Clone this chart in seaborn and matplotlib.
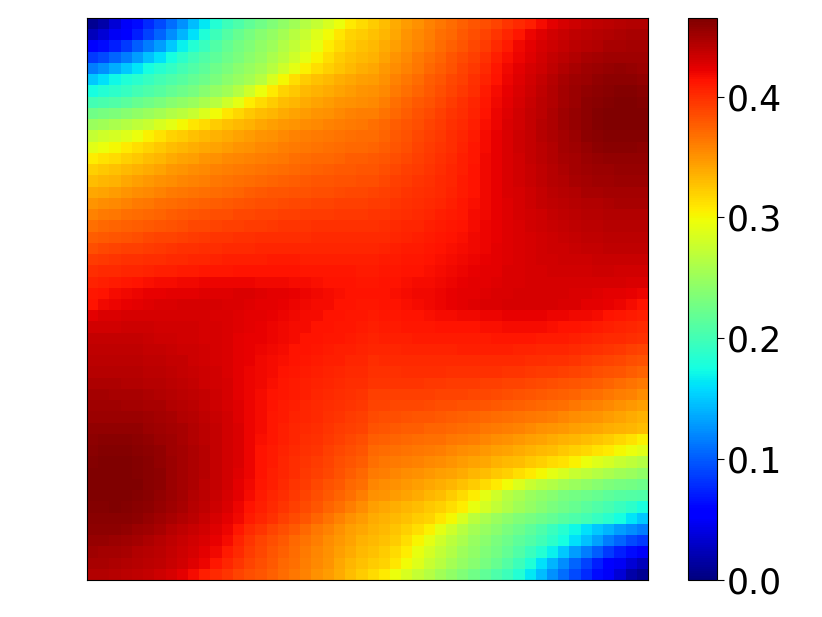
import numpy as np
import matplotlib
matplotlib.use("Agg")
import matplotlib.pyplot as plt
import seaborn as sns

# Cell values, in thousandths
upper_left = [
    [8,18,35,50,62,78,92,108,125,145,165,183,197,207,217,226,235,244,254,264,274,284,296,307,316],
    [25,35,48,58,72,88,104,122,140,160,180,197,210,220,230,238,247,256,266,276,287,298,310,318,323],
    [52,62,72,85,100,115,130,150,168,182,196,208,218,228,236,244,252,262,272,283,294,306,316,323,328],
    [85,92,104,116,130,146,160,175,188,198,208,216,224,232,240,248,258,268,278,291,303,314,322,327,332],
    [115,125,137,150,162,175,184,192,200,208,216,224,232,240,248,256,266,279,292,305,314,321,326,332,337],
    [150,160,172,180,187,194,200,206,212,218,224,232,240,248,256,266,284,300,313,322,328,332,337,341,344],
    [176,182,188,194,200,206,212,218,224,230,238,246,254,264,278,296,308,318,325,331,335,339,343,346,349],
    [200,204,208,214,220,226,232,238,244,250,258,266,278,292,306,316,323,329,334,338,342,346,349,352,354],
    [226,230,234,238,244,250,256,262,268,276,286,298,309,317,324,330,334,338,342,346,349,352,355,358,360],
    [250,253,258,264,270,276,284,292,301,309,316,322,327,332,336,340,344,347,350,353,356,358,361,363,365],
    [274,278,282,288,296,304,312,318,323,328,332,336,339,343,346,349,352,355,358,360,362,364,366,368,369],
    [290,295,301,307,313,319,324,329,333,337,340,343,346,349,352,355,357,360,362,364,366,368,370,371,372],
    [306,311,315,320,325,330,334,338,342,345,349,352,355,357,359,361,363,365,367,369,371,372,374,376,377],
    [320,324,327,331,335,339,343,347,350,353,355,358,360,362,364,366,368,370,372,374,375,376,378,379,380],
    [330,333,336,340,344,348,351,354,357,359,361,364,366,368,370,372,374,375,377,378,380,381,382,383,384],
    [340,343,346,350,353,356,359,362,364,366,368,370,372,374,376,378,380,381,382,383,384,385,386,387,388],
    [350,353,356,359,362,364,367,369,371,373,375,377,379,381,382,384,385,386,387,388,389,390,391,392,392],
    [359,362,365,367,369,371,374,376,378,380,382,384,385,387,388,389,390,391,392,393,394,394,395,395,395],
    [368,371,373,375,377,379,381,383,385,387,388,390,391,392,393,394,395,396,397,397,398,398,399,399,399],
    [376,379,381,383,385,387,389,390,392,393,395,396,397,398,399,400,400,401,401,401,402,402,402,402,402],
    [385,387,389,391,392,394,395,397,398,399,400,401,402,403,403,404,404,405,405,405,405,405,405,405,405],
    [393,395,396,398,399,400,401,402,403,404,405,406,407,408,408,408,409,409,409,408,408,408,408,408,407],
    [400,402,403,404,405,406,407,408,409,410,411,412,412,413,413,413,413,413,413,412,412,411,411,411,410],
    [406,408,410,411,413,415,416,417,418,419,420,420,420,420,420,419,419,418,417,416,415,414,414,413,412],
    [411,414,417,419,421,422,423,424,425,425,426,426,426,427,427,426,425,424,422,420,418,416,415,414,413],
]

upper_right = [
    [322,330,338,346,352,358,364,370,375,380,385,390,396,402,408,416,424,430,434,437,439,441,443,444,445],
    [327,334,341,349,355,361,367,372,378,384,390,397,405,412,420,426,431,435,438,441,443,444,446,447,447],
    [332,338,345,351,357,363,369,375,381,387,394,402,410,418,424,429,433,437,440,443,445,447,448,449,450],
    [336,343,350,356,362,368,374,380,386,392,399,407,415,421,426,431,436,441,445,448,450,451,452,452,452],
    [341,347,353,359,365,371,377,383,389,395,402,411,418,424,429,434,439,444,448,451,453,455,456,455,454],
    [346,352,358,364,370,376,381,387,392,398,406,414,420,426,431,436,442,447,451,454,457,459,459,458,456],
    [351,356,362,368,374,379,385,390,395,401,409,416,422,428,433,438,444,449,453,456,459,461,462,462,460],
    [356,361,367,373,378,383,388,393,398,404,412,418,424,430,435,440,445,450,454,458,461,463,464,464,463],
    [361,366,372,377,382,386,391,396,401,406,414,420,426,431,436,441,446,451,455,459,462,464,465,465,465],
    [367,371,376,380,385,389,393,398,403,408,415,421,427,432,437,442,446,451,455,459,462,464,465,465,465],
    [370,374,378,383,387,391,395,400,405,410,416,422,428,433,437,442,446,450,454,458,460,462,463,463,463],
    [373,377,381,385,389,393,397,401,406,411,417,423,428,433,437,441,445,449,452,455,458,460,460,460,459],
    [378,381,385,388,392,395,399,403,407,412,418,423,428,432,436,440,444,447,450,453,455,456,457,457,457],
    [381,384,387,391,394,397,400,404,408,413,418,423,427,431,435,439,443,446,449,451,453,454,455,455,455],
    [385,388,391,394,396,399,402,405,409,413,418,423,427,431,435,438,442,445,447,449,451,452,453,453,453],
    [389,391,393,396,398,401,403,406,410,414,418,423,427,430,434,437,440,443,445,447,448,449,450,450,450],
    [393,394,396,398,400,402,405,408,411,415,419,423,426,429,433,436,438,441,443,444,445,446,447,447,448],
    [396,397,399,401,403,405,407,409,412,416,419,423,426,429,432,434,437,439,441,442,443,444,445,445,445],
    [399,400,402,404,405,407,409,411,414,417,420,423,426,428,431,433,435,437,438,440,441,442,442,443,443],
    [402,403,405,406,408,409,411,413,415,418,421,423,426,428,430,432,434,435,437,438,439,440,440,441,441],
    [405,406,408,409,410,411,413,415,417,419,421,424,426,428,430,431,433,434,435,436,437,438,438,438,438],
    [408,409,410,411,412,413,415,417,419,421,423,425,426,428,429,431,432,433,434,434,435,435,435,435,435],
    [410,411,412,413,414,415,417,419,421,423,424,425,427,428,429,430,431,432,432,432,433,433,432,432,431],
    [412,413,414,415,416,417,419,421,423,424,425,426,427,428,429,430,430,430,430,430,430,430,429,428,427],
    [413,414,415,416,418,419,421,423,424,425,426,427,428,429,429,430,430,429,428,427,426,425,424,423,420],
]

lower_left = [
    [414,418,421,423,425,426,427,428,429,429,429,429,428,427,426,425,424,423,421,419,417,416,414,413,412],
    [425,427,428,429,430,430,430,430,430,430,429,428,427,426,425,424,422,421,419,417,416,414,413,412,411],
    [431,432,432,433,433,433,432,432,431,431,430,429,427,426,424,423,421,419,417,416,414,413,412,411,410],
    [436,436,436,436,436,435,434,433,432,431,430,429,427,425,423,422,420,418,416,414,413,412,411,409,408],
    [439,439,439,439,438,437,436,435,434,433,431,429,427,425,423,420,418,416,414,413,411,410,408,407,406],
    [441,441,441,441,440,439,438,437,436,434,432,430,428,425,422,419,417,415,413,411,410,408,407,405,404],
    [443,443,443,443,442,441,440,439,437,435,433,431,428,425,421,418,416,414,411,410,408,406,405,403,402],
    [446,446,446,445,444,443,442,441,439,437,434,432,429,425,421,418,415,412,410,408,406,404,403,401,400],
    [449,449,448,448,447,446,445,443,441,439,436,433,429,425,421,417,414,411,409,407,405,403,401,399,397],
    [451,451,451,450,449,448,447,445,443,441,437,434,430,426,421,417,413,410,408,405,403,401,399,397,395],
    [454,454,454,454,453,452,450,448,445,442,439,435,431,426,421,416,412,409,406,404,402,399,397,394,392],
    [456,457,457,457,456,454,452,449,447,444,440,436,432,427,421,416,411,408,405,402,400,397,394,391,389],
    [459,460,460,460,459,457,454,451,448,445,441,437,432,427,421,415,411,407,404,401,398,395,391,388,385],
    [461,462,463,462,461,459,456,452,449,446,442,437,432,427,421,414,410,406,402,399,396,392,388,384,381],
    [463,464,464,464,462,460,457,454,450,446,442,437,432,427,421,414,409,405,401,397,393,389,385,381,377],
    [465,465,465,465,463,461,458,454,450,446,442,437,432,426,420,413,408,404,400,395,391,387,382,377,372],
    [465,465,465,465,464,461,458,454,450,446,441,436,431,425,419,412,407,402,397,393,388,383,378,372,367],
    [464,465,465,465,463,460,457,453,449,445,440,435,430,424,417,410,405,400,395,390,385,379,373,367,361],
    [463,463,464,463,461,458,455,451,447,443,438,433,427,421,414,408,403,397,392,386,380,374,368,361,354],
    [461,461,461,460,458,455,452,448,444,440,435,430,425,418,410,404,398,392,386,380,373,366,359,352,346],
    [458,458,458,456,454,451,447,443,439,435,431,426,420,412,403,396,390,384,378,372,365,358,351,345,340],
    [455,455,454,452,449,446,443,439,435,431,427,422,416,406,397,390,384,378,372,366,360,354,348,342,336],
    [451,450,449,447,445,443,440,437,433,429,424,418,410,402,394,387,381,375,369,363,357,351,345,338,332],
    [447,447,446,444,443,441,438,435,431,426,420,412,405,397,390,384,378,372,367,361,355,349,341,334,327],
    [445,444,443,441,439,437,434,430,424,416,408,402,396,390,385,380,375,370,364,358,352,346,338,330,322],
]

lower_right = [
    [412,413,414,415,417,419,421,423,425,426,427,428,429,430,430,430,429,428,427,425,424,422,420,417,413],
    [410,411,412,413,414,415,416,417,418,419,420,421,422,422,422,422,421,420,419,418,416,414,412,410,408],
    [408,409,410,411,412,412,413,413,414,414,415,415,416,416,416,416,415,414,413,412,410,408,406,404,402],
    [406,407,408,408,409,409,410,410,410,410,410,411,411,411,411,410,410,409,408,406,405,403,402,400,398],
    [404,405,405,406,406,406,406,406,407,407,407,407,407,406,406,405,405,404,402,401,399,397,395,392,390],
    [401,402,403,403,403,403,403,403,403,403,403,403,402,402,401,400,399,398,396,394,392,390,388,385,382],
    [399,399,399,400,400,400,400,399,399,399,398,398,397,396,395,394,393,391,389,387,385,383,380,377,374],
    [396,396,396,396,396,395,395,394,394,393,392,391,390,389,388,386,384,382,380,378,376,373,370,366,363],
    [392,392,392,392,391,391,390,390,389,388,387,386,385,383,381,379,377,375,373,370,367,364,361,358,354],
    [389,389,388,387,387,386,385,384,383,382,380,378,377,375,373,371,369,367,364,361,358,355,352,348,344],
    [386,385,384,382,381,380,378,377,375,374,372,370,368,366,364,362,360,357,354,351,349,346,343,339,335],
    [382,380,379,377,376,374,373,371,369,367,365,363,360,358,355,352,350,347,344,342,340,337,335,333,330],
    [377,375,373,372,370,368,367,365,362,360,357,354,351,348,345,342,339,336,333,330,326,322,317,311,304],
    [372,370,368,366,364,362,360,357,354,351,348,345,342,339,336,332,329,325,321,317,312,307,301,295,289],
    [367,365,363,361,358,356,353,350,346,343,340,336,332,329,325,320,316,311,304,296,288,282,276,270,265],
    [362,360,357,354,351,348,345,342,338,334,330,325,320,314,307,300,292,284,276,270,264,258,253,249,245],
    [357,354,351,348,345,341,337,333,328,322,316,308,298,286,276,268,262,256,250,244,238,234,230,228,225],
    [352,349,346,342,338,334,329,323,316,306,292,278,266,258,250,244,238,232,228,224,220,216,212,210,208],
    [344,341,337,333,329,325,320,314,306,294,282,272,262,254,246,238,232,226,220,214,208,202,196,188,178],
    [339,335,331,327,323,318,310,300,284,268,258,250,242,236,230,224,218,212,206,200,194,186,176,162,150],
    [335,331,326,321,314,305,292,279,266,256,248,240,232,224,216,206,196,184,172,160,150,140,130,122,115],
    [332,327,322,314,303,291,278,268,258,248,240,232,224,216,208,198,188,176,160,146,132,116,104,92,85],
    [328,323,316,306,294,283,272,262,252,244,236,228,218,208,196,182,168,150,130,115,100,85,72,62,50],
    [323,318,310,298,287,276,266,256,247,238,230,220,210,197,180,160,140,122,104,88,72,58,48,35,25],
    [316,307,296,284,274,264,254,244,235,226,217,207,197,183,165,145,125,108,92,78,62,50,35,18,8],
]

colorbar_ticks = [0.0, 0.1, 0.2, 0.3, 0.4]
color_max = 0.465

grid = np.vstack([np.hstack([upper_left, upper_right]),
                  np.hstack([lower_left, lower_right])]) / 1000

fig = plt.figure(figsize=(8.22, 6.17), dpi=100)
W, H = 822, 617
ax = fig.add_axes([87 / W, 1 - 580 / H, 561 / W, 562 / H])
cax = fig.add_axes([688 / W, 1 - 580 / H, 29 / W, 562 / H])

sns.heatmap(grid, ax=ax, cbar_ax=cax, cmap="jet", vmin=0, vmax=color_max,
            xticklabels=False, yticklabels=False, square=False)

for spine in ax.spines.values():
    spine.set_visible(True)
    spine.set_color("black")
    spine.set_linewidth(0.8)

cbar = ax.collections[0].colorbar
cbar.set_ticks(colorbar_ticks)
cbar.set_ticklabels([f"{t:.1f}" for t in colorbar_ticks])
cbar.ax.tick_params(labelsize=25, length=5, width=0.8, color="black", pad=2)
cbar.outline.set_visible(True)
cbar.outline.set_linewidth(0.8)
cbar.outline.set_edgecolor("black")

fig.savefig("out.png", dpi=100)
